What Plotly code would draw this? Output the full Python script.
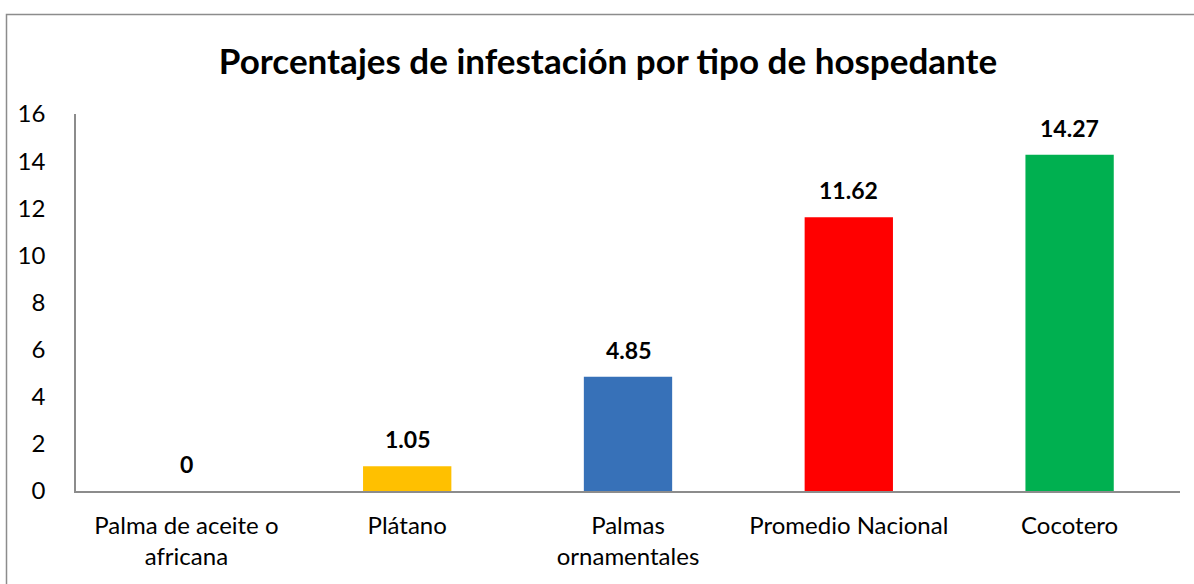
import plotly.graph_objects as go

categories = ["Palma de aceite o<br>africana", "Plátano", "Palmas<br>ornamentales", "Promedio Nacional", "Cocotero"]
values = [0, 1.05, 4.85, 11.62, 14.27]
labels = ["0", "1.05", "4.85", "11.62", "14.27"]
colors = ["#4F81BD", "#FFC000", "#3771B8", "#FF0000", "#00B050"]
y_ticks = [0, 2, 4, 6, 8, 10, 12, 14, 16]

W, H = 1194, 584
L, R, T, B = 76, 14, 114, 93
FONT = "Lato, 'Open Sans', sans-serif"

fig = go.Figure()
fig.add_trace(go.Bar(
    x=categories, y=values, marker=dict(color=colors, line=dict(width=0)),
    width=0.4, hoverinfo="skip",
))

for c, v, t in zip(categories, values, labels):
    fig.add_annotation(x=c, y=v, text=f"<b>{t}</b>", showarrow=False,
                       yanchor="bottom", yshift=11,
                       font=dict(family=FONT, size=23, color="#000000"))

pw = W - L - R
ph = H - T - B
fig.add_shape(type="rect", xref="paper", yref="paper",
              x0=(6.5 - L) / pw, x1=(W + 20 - L) / pw,
              y0=-(H + 20 - (H - B)) / ph, y1=((H - B) - 14.5) / ph,
              line=dict(color="#8C8C8C", width=1.5), fillcolor="rgba(0,0,0,0)", layer="below")

fig.update_layout(
    width=W, height=H,
    margin=dict(l=L, r=R, t=T, b=B, pad=0),
    paper_bgcolor="white", plot_bgcolor="white",
    showlegend=False,
    bargap=0.6,
    title=dict(text="<b>Porcentajes de infestación por tipo de hospedante</b>",
               x=608 / W, xanchor="center", y=1 - 62 / H, yanchor="middle",
               font=dict(family=FONT, size=35, color="#000000")),
    xaxis=dict(showline=True, linecolor="#8C8C8C", linewidth=1.5, ticks="",
               showgrid=False, tickfont=dict(family=FONT, size=24, color="#000000"),
               ticklabelstandoff=12),
    yaxis=dict(range=[0, 16], tickvals=y_ticks, showline=True, linecolor="#8C8C8C",
               linewidth=1.5, ticks="", showgrid=False, zeroline=False,
               tickfont=dict(family=FONT, size=24, color="#000000"),
               ticklabelstandoff=24),
)

fig.write_html("out.html", config={"displayModeBar": False},
               post_script="document.body.style.margin='0';document.body.style.padding='0';")
